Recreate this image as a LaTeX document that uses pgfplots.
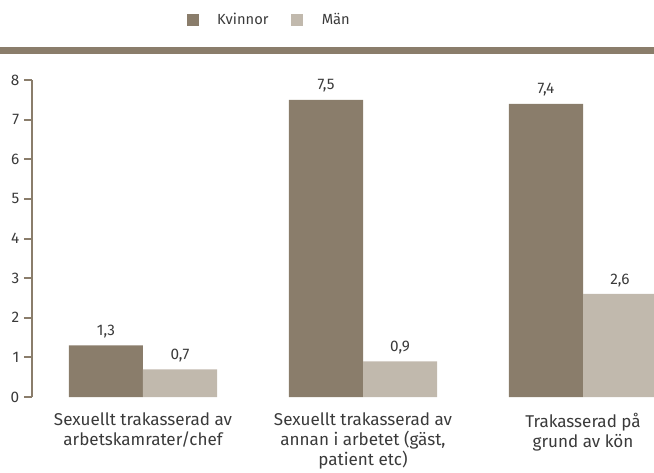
\documentclass[border=0pt]{standalone}
\usepackage{pgfplots}
\pgfplotsset{compat=1.18}
\usepackage{fontspec}
\setmainfont{Fira Sans}
\definecolor{kv}{RGB}{138,125,107}
\definecolor{man}{RGB}{193,185,173}
\definecolor{txt}{RGB}{58,58,58}
\begin{document}
\begin{tikzpicture}
\useasboundingbox (0pt,0pt) rectangle (490.5pt,354pt);
\fill[kv] (0pt,313.5pt) rectangle (490.5pt,318.75pt);
\begin{axis}[
  at={(24pt,56.25pt)}, anchor=south west,
  scale only axis, width=466.5pt, height=237.75pt,
  xmin=-0.5045, xmax=2.3227, ymin=0, ymax=8,
  ybar=0pt, bar width=0.3364,
  ytick={0,1,2,3,4,5,6,7,8},
  xtick={0,1,2},
  xticklabels={{Sexuellt trakasserad av\\arbetskamrater/chef},{Sexuellt trakasserad av\\annan i arbetet (gäst,\\patient etc)},{Trakasserad på\\grund av kön}},
  axis lines=left,
  axis line style={-, draw=kv, line width=1.5pt},
  x axis line style={draw=none},
  tick align=outside,
  major tick length=6pt,
  ytick style={draw=kv, line width=1.5pt},
  xtick style={draw=none},
  /pgf/number format/assume math mode=true,
  yticklabel style={font=\fontsize{11.5}{13}\selectfont, text=txt},
  xticklabel style={align=center, font=\fontsize{12.8}{15}\selectfont, text=txt, yshift=-2.5pt},
  nodes near coords={\pgfmathprintnumber[use comma,fixed,fixed zerofill,precision=1]{\pgfplotspointmeta}},
  nodes near coords style={font=\fontsize{11.5}{13}\selectfont, text=txt, yshift=2pt},
  legend image code/.code={\fill[#1] (0pt,-4.5pt) rectangle (9pt,4.5pt);\path[draw=none,fill=none] (0pt,-0.1pt) rectangle (21pt,0.1pt);},
  legend style={at={(0.3818,1.189)}, anchor=center, draw=none, fill=none,
    legend columns=2, font=\fontsize{11}{13}\selectfont, text=txt,
    /tikz/every even column/.append style={column sep=15pt}},
]
\addplot[fill=kv, draw=none] coordinates {(0,1.3) (1,7.5) (2,7.4)};
\addlegendentry{Kvinnor}
\addplot[fill=man, draw=none] coordinates {(0,0.7) (1,0.9) (2,2.6)};
\addlegendentry{Män}
\end{axis}
\end{tikzpicture}
\end{document}
